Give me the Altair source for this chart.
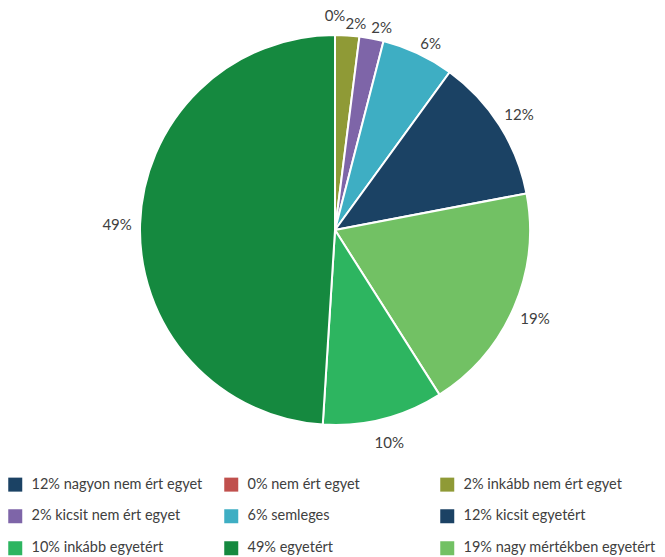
import altair as alt
import pandas as pd

# Legend categories (legend order) and colours
legend_labels = [
    "12% nagyon nem ért egyet",
    "0% nem ért egyet",
    "2% inkább nem ért egyet",
    "2% kicsit nem ért egyet",
    "6% semleges",
    "12% kicsit egyetért",
    "10% inkább egyetért",
    "49% egyetért",
    "19% nagy mértékben egyetért",
]
legend_colors = [
    "#1b4264", "#c0504d", "#8f9a36", "#7e65a8", "#3eaec3",
    "#1b4264", "#2db560", "#15893f", "#72c164",
]

# Pie slices in clockwise drawing order from 12 o'clock
pie_categories = [
    "12% nagyon nem ért egyet",
    "0% nem ért egyet",
    "2% inkább nem ért egyet",
    "2% kicsit nem ért egyet",
    "6% semleges",
    "12% kicsit egyetért",
    "19% nagy mértékben egyetért",
    "10% inkább egyetért",
    "49% egyetért",
]
pie_values = [0, 0.001, 2, 2, 6, 12, 19, 10, 49]
pie_labels = ["", "0%", "2%", "2%", "6%", "12%", "19%", "10%", "49%"]

df = pd.DataFrame({
    "cat": pie_categories,
    "value": pie_values,
    "label": pie_labels,
    "order": list(range(len(pie_categories))),
})

FONT = "Lato"
CX, CY = 335, 230
R = 195

base = alt.Chart(df).encode(
    theta=alt.Theta("value:Q", stack=True),
    order=alt.Order("order:Q", sort="ascending"),
    x=alt.value(CX),
    y=alt.value(CY),
)

arcs = base.mark_arc(radius=R, stroke="white", strokeWidth=2).encode(
    color=alt.Color(
        "cat:N",
        scale=alt.Scale(domain=legend_labels, range=legend_colors),
        legend=alt.Legend(
            title=None,
            orient="none",
            direction="horizontal",
            legendX=8,
            legendY=477,
            columns=3,
            gridAlign="all",
            columnPadding=0,
            rowPadding=16,
            symbolType="square",
            symbolSize=196,
            symbolStrokeWidth=0,
            labelFont=FONT,
            labelFontSize=14.5,
            labelColor="#404040",
            labelOffset=9,
            labelLimit=400,
        ),
    )
)

text_style = dict(font=FONT, fontSize=15, color="#404040")

big_labels = base.mark_text(radius=R + 23, dy=2, **text_style).encode(
    text=alt.condition("datum.value >= 10", "label:N", alt.value(""))
)
small_labels = base.mark_text(radius=R + 11, dx=8, **text_style).encode(
    text=alt.condition("datum.value >= 0.5 && datum.value < 10", "label:N", alt.value(""))
)
zero_labels = base.mark_text(radius=R + 19, **text_style).encode(
    text=alt.condition("datum.value < 0.5", "label:N", alt.value(""))
)

chart = alt.layer(arcs, big_labels, small_labels, zero_labels).properties(
    width=665, height=557, autosize=alt.AutoSizeParams(type="none"), padding=0
).configure_view(stroke=None)

chart.save("out.html", embed_options={"renderer": "svg", "actions": False})
